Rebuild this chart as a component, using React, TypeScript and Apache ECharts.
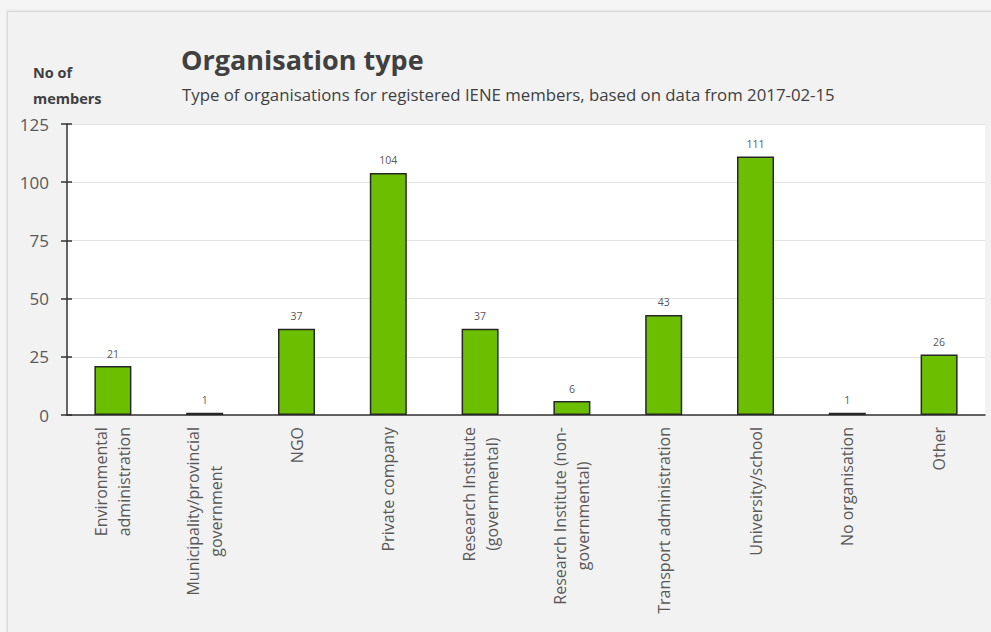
import React, { useEffect, useRef } from 'react';
import * as echarts from 'echarts';

const categories: string[] = [
  'Environmental\nadministration',
  'Municipality/provincial\ngovernment',
  'NGO',
  'Private company',
  'Research Institute\n(governmental)',
  'Research Institute (non-\ngovernmental)',
  'Transport administration',
  'University/school',
  'No organisation',
  'Other',
];
const members: number[] = [21, 1, 37, 104, 37, 6, 43, 111, 1, 26];

const yMin = 0;
const yMax = 125;
const yStep = 25;

const titleText = 'Organisation type';
const subtitleText = 'Type of organisations for registered IENE members, based on data from 2017-02-15';
const yAxisTitle = 'No of\nmembers';

const FONT = '"Open Sans", "Noto Sans", sans-serif';

export default function App() {
  const ref = useRef<HTMLDivElement>(null);
  useEffect(() => {
    if (!ref.current) return;
    const chart = echarts.init(ref.current, undefined, { renderer: 'svg' });
    chart.setOption({
      animation: false,
      backgroundColor: '#f5f5f5',
      textStyle: { fontFamily: FONT },
      graphic: [
        {
          type: 'rect',
          z: -10,
          shape: { x: 7.5, y: 11.5, width: 990, height: 630 },
          style: { fill: '#f2f2f2', stroke: '#d9d9d9', lineWidth: 1, shadowColor: 'rgba(0,0,0,0.12)', shadowBlur: 3 },
        },
      ],
      title: [
        {
          text: titleText,
          left: 181,
          top: 46,
          padding: 0,
          textStyle: { fontFamily: FONT, fontSize: 27, fontWeight: 'bold', color: '#404040' },
        },
        {
          text: subtitleText,
          left: 182,
          top: 86,
          padding: 0,
          textStyle: { fontFamily: FONT, fontSize: 16.8, fontWeight: 'normal', color: '#404040' },
        },
        {
          text: yAxisTitle,
          left: 33,
          top: 59,
          padding: 0,
          textStyle: { fontFamily: FONT, fontSize: 14.5, fontWeight: 'bold', color: '#404040', lineHeight: 26 },
        },
      ],
      grid: {
        left: 67,
        right: 6,
        top: 124,
        bottom: 217,
        show: true,
        backgroundColor: '#ffffff',
        borderWidth: 0,
      },
      xAxis: {
        type: 'category',
        data: categories,
        axisLine: { show: true, lineStyle: { color: '#333333', width: 1.5 } },
        axisTick: { show: false },
        axisLabel: {
          interval: 0,
          rotate: 90,
          margin: 12,
          color: '#595959',
          fontFamily: FONT,
          fontSize: 16,
          lineHeight: 23,
          formatter: (v: string) => v.split('\n').map((l) => `{c|${l}}`).join('\n'),
          rich: {
            c: { align: 'center', fontFamily: FONT, fontSize: 16, lineHeight: 23, color: '#595959' },
          },
        },
        splitLine: { show: false },
      },
      yAxis: [
        {
          type: 'value',
          min: yMin,
          max: yMax,
          interval: yStep,
          axisLine: { show: true, lineStyle: { color: '#333333', width: 1.5 } },
          axisTick: { show: true, inside: false, length: 6, lineStyle: { color: '#333333', width: 1.5 } },
          axisLabel: { margin: 18, color: '#595959', fontFamily: FONT, fontSize: 17 },
          splitLine: { show: true, lineStyle: { color: '#e3e3e3', width: 1 } },
        },
        {
          type: 'value',
          position: 'left',
          min: yMin,
          max: yMax,
          interval: yStep,
          axisLine: { show: false },
          axisTick: { show: true, inside: true, length: 5, lineStyle: { color: '#333333', width: 1.5 } },
          axisLabel: { show: false },
          splitLine: { show: false },
        },
      ],
      series: [
        {
          type: 'bar',
          data: members,
          barWidth: 37,
          itemStyle: { color: '#6cbf00', borderColor: '#262626', borderWidth: 1.5 },
          label: {
            show: true,
            position: 'top',
            distance: 7,
            color: '#595959',
            fontFamily: FONT,
            fontSize: 10.5,
          },
        },
      ],
    });
    return () => chart.dispose();
  }, []);
  return <div ref={ref} style={{ position: 'fixed', left: 0, top: 0, width: 991, height: 632 }} />;
}
